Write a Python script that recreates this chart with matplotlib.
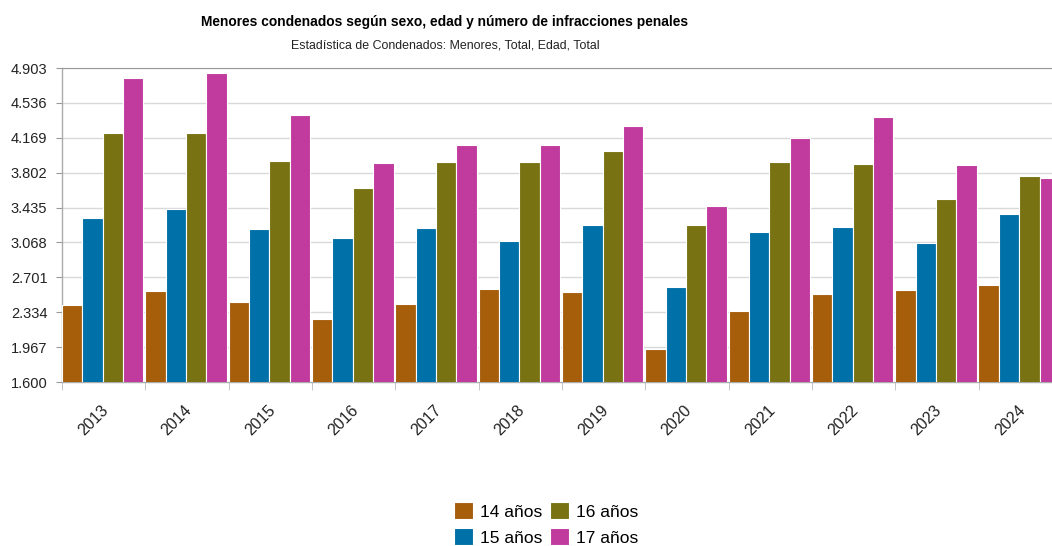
import numpy as np
import matplotlib.pyplot as plt
import matplotlib.transforms as mtransforms
from matplotlib import font_manager
from matplotlib.ticker import FixedLocator

plt.rcParams['font.family'] = ['Liberation Sans', 'DejaVu Sans']

years = ["2013", "2014", "2015", "2016", "2017", "2018",
         "2019", "2020", "2021", "2022", "2023", "2024"]

# condenados por edad
age14 = [2406, 2560, 2440, 2266, 2423, 2577, 2545, 1947, 2346, 2524, 2566, 2619]
age15 = [3327, 3417, 3207, 3120, 3218, 3081, 3253, 2595, 3176, 3232, 3057, 3372]
age16 = [4220, 4223, 3929, 3642, 3911, 3914, 4031, 3249, 3911, 3890, 3527, 3768]
age17 = [4801, 4853, 4409, 3905, 4094, 4094, 4289, 3456, 4171, 4391, 3887, 3747]

series_names = ["14 años", "15 años", "16 años", "17 años"]
colors = ["#a65e0b", "#0070a8", "#787212", "#c13a9e"]

yticks = [1600, 1967, 2334, 2701, 3068, 3435, 3802, 4169, 4536, 4903]

# title font is a narrow sans in the original
names = {f.name for f in font_manager.fontManager.ttflist}
if "Liberation Sans Narrow" in names:
    title_family = ["Liberation Sans Narrow", "Liberation Sans"]
    title_size, sub_size = 12, 10.5
else:
    title_family = ["Liberation Sans", "DejaVu Sans"]
    title_size, sub_size = 9.9, 8.9

fig = plt.figure(figsize=(10.52, 5.46), dpi=100)
ax = fig.add_axes([62 / 1052, 164 / 546, 1000 / 1052, 314 / 546])

x = np.arange(len(years))
w = 0.245
for i, (vals, name, c) in enumerate(zip([age14, age15, age16, age17], series_names, colors)):
    ax.bar(x + (i - 1.5) * w - 0.012, vals, width=w, color=c, edgecolor="white",
           linewidth=0.8, label=name, zorder=3)

ax.set_xlim(-0.5, len(years) - 0.5)
ax.set_ylim(1600, 4903)

ax.set_yticks(yticks)
ax.set_yticklabels([f"{v:,}".replace(",", ".") for v in yticks], fontsize=10.5, color="#222222")
ax.yaxis.grid(True, color="#d9d9d9", linewidth=1, zorder=0)
ax.tick_params(axis="y", length=4, color="#999999", pad=6.5)

ax.set_xticks(x)
ax.set_xticklabels(years, rotation=45, ha="right", va="top", rotation_mode="anchor",
                   fontsize=11.5, color="#222222")
ax.tick_params(axis="x", which="major", length=0, pad=15)
shift = mtransforms.ScaledTranslation(-3 / 100, 0, fig.dpi_scale_trans)
for lbl in ax.get_xticklabels():
    lbl.set_transform(lbl.get_transform() + shift)
ax.xaxis.set_minor_locator(FixedLocator(np.arange(-0.5, len(years), 1.0)))
ax.tick_params(axis="x", which="minor", length=6, color="#bbbbbb")

for s in ["left", "bottom"]:
    ax.spines[s].set_color("#aaaaaa")
    ax.spines[s].set_linewidth(1)
ax.spines["top"].set_color("#999999")
ax.spines["right"].set_visible(False)

fig.text(445 / 1052, 1 - 22 / 546, "Menores condenados según sexo, edad y número de infracciones penales",
         ha="center", va="center", fontsize=title_size, fontweight="bold", color="black",
         family=title_family)
fig.text(445 / 1052, 1 - 45 / 546, "Estadística de Condenados: Menores, Total, Edad, Total",
         ha="center", va="center", fontsize=sub_size, color="#222222", family=title_family)

fig.legend(loc="center", bbox_to_anchor=(546 / 1052, 1 - 524 / 546), ncol=2, frameon=False,
           fontsize=12.5, handlelength=1.1, handleheight=1.1, handletextpad=0.4,
           columnspacing=0.4, labelspacing=0.5, borderaxespad=0, borderpad=0)

fig.savefig("out.png", dpi=100)
